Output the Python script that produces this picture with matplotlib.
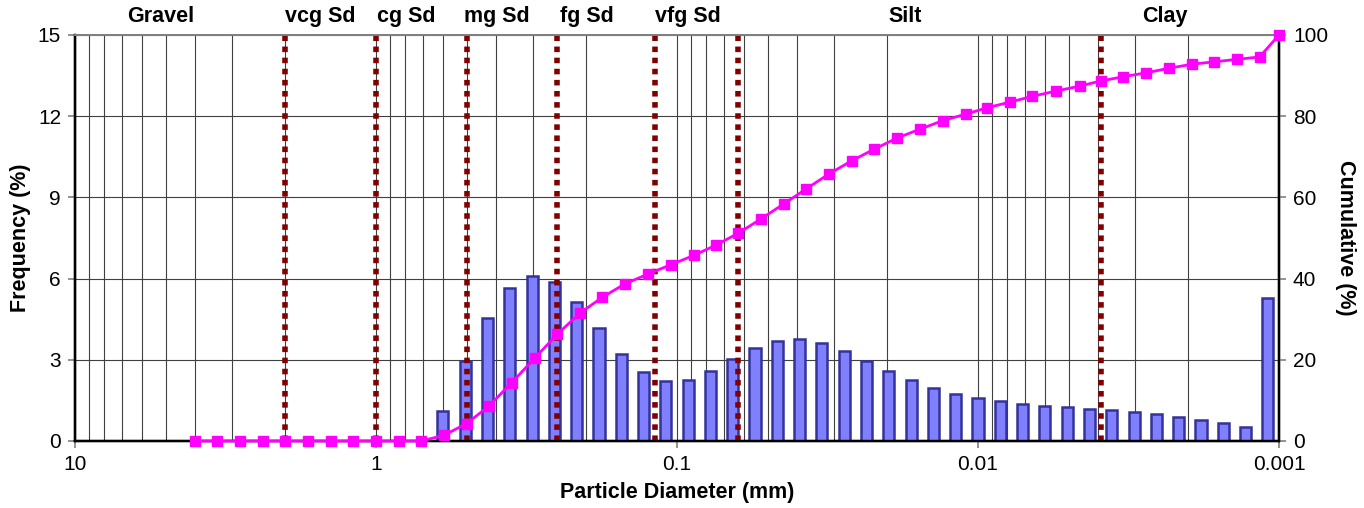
# Grain-size distribution: frequency bars + cumulative curve on a reversed log axis
import numpy as np
import matplotlib
matplotlib.use('Agg')
import matplotlib.pyplot as plt
from matplotlib.ticker import FixedLocator, FuncFormatter

plt.rcParams['font.family'] = ['Liberation Sans', 'DejaVu Sans']

# %% data
diam_mm = [4, 3.364, 2.828, 2.378, 2, 1.682, 1.414, 1.189, 1, 0.841, 0.707,
           0.595, 0.5, 0.42, 0.354, 0.297, 0.25, 0.21, 0.177, 0.149, 0.125,
           0.105, 0.088, 0.074, 0.0625, 0.0526, 0.0442, 0.0372, 0.03125,
           0.0263, 0.0221, 0.0186, 0.0156, 0.0131, 0.011, 0.0093, 0.0078,
           0.0066, 0.0055, 0.0046, 0.0039, 0.0033, 0.00276, 0.00232,
           0.00195, 0.00164, 0.00138, 0.00116, 0.001]
freq_pct = [0, 0, 0, 0, 0, 0, 0, 0, 0, 0, 0,
            1.12, 2.96, 4.53, 5.64, 6.08, 5.86, 5.15, 4.16, 3.22, 2.55,
            2.22, 2.27, 2.59, 3.03, 3.43, 3.70, 3.77, 3.63, 3.34, 2.97,
            2.60, 2.25, 1.95, 1.74, 1.58, 1.46, 1.36, 1.30, 1.24, 1.19,
            1.13, 1.06, 0.99, 0.90, 0.79, 0.65, 0.50, 5.27]
cum_pct = [0, 0, 0, 0, 0, 0, 0, 0, 0, 0, 0,
           1.4, 4.3, 8.7, 14.4, 20.4, 26.3, 31.5, 35.4, 38.7, 41.1,
           43.4, 45.7, 48.3, 51.2, 54.7, 58.4, 62.1, 65.8, 69.0, 71.9,
           74.6, 76.8, 78.9, 80.5, 82.1, 83.5, 84.9, 86.2, 87.4, 88.7,
           89.7, 90.7, 91.8, 92.8, 93.4, 94.0, 94.6, 100]
bounds_mm = [2, 1, 0.5, 0.25, 0.118, 0.0625, 0.0039]
class_names = ['Gravel', 'vcg Sd', 'cg Sd', 'mg Sd', 'fg Sd', 'vfg Sd', 'Silt', 'Clay']
class_xpos = [0.071, 0.204, 0.2755, 0.3505, 0.4252, 0.5091, 0.6894, 0.9049]  # axes fraction

GRID = '#404040'
TICK = '#808080'
LBL = 15.5

# %% figure
fig = plt.figure(figsize=(13.64, 5.08), dpi=100)
ax = fig.add_axes([75 / 1364, 1 - 441 / 508, 1204 / 1364, 406 / 508])
ax.set_xscale('log')
ax.set_xlim(10, 0.001)
ax.set_ylim(0, 15)
ax.set_yticks(np.arange(0, 16, 3))
ax.xaxis.set_major_locator(FixedLocator([10, 1, 0.1, 0.01, 0.001]))
ax.xaxis.set_major_formatter(FuncFormatter(lambda v, p: f'{v:g}'))
ax.grid(which='both', axis='x', color=GRID, lw=0.8)
ax.grid(which='major', axis='y', color=GRID, lw=0.8)
ax.set_axisbelow(True)
ax.tick_params(which='major', direction='out', length=5, color=TICK,
               width=1.2, labelsize=15, pad=5)
ax.tick_params(which='minor', length=0)
ax.set_xlabel('Particle Diameter (mm)', fontsize=LBL, weight='bold', labelpad=6)
ax.set_ylabel('Frequency (%)', fontsize=LBL, weight='bold', labelpad=5)

# bars sit on an evenly spaced category axis (like the spreadsheet chart)
axb = ax.twiny()
axb.set_xlim(-0.5, 53.5)
cat = np.arange(len(freq_pct)) + 5
axb.bar(cat, freq_pct, width=0.5, color='#8080ff', edgecolor='#333399',
        linewidth=1.8, zorder=2)
axb.xaxis.set_visible(False)

# cumulative curve and class boundaries on the log axis, right y scale
axc = ax.twinx()
axc.set_ylim(0, 100)
axc.set_yticks(np.arange(0, 101, 20))
axc.tick_params(axis='y', direction='out', length=5, color=TICK, width=1.2,
                labelsize=15, pad=5)
for b in bounds_mm:
    axc.axvline(b, color='#800000', lw=4.0, ls=(0, (1, 1)), zorder=2)
axc.plot(diam_mm, cum_pct, color='#ff00ff', lw=2, marker='s', ms=7,
         zorder=3, clip_on=False)
axc.set_ylabel('Cumulative (%)', fontsize=LBL, weight='bold', rotation=270,
               labelpad=20)

for a in (ax, axb, axc):
    for side in ('left', 'right', 'bottom'):
        a.spines[side].set_color('black')
        a.spines[side].set_linewidth(1.6)
    a.spines['top'].set_color('#808080')
    a.spines['top'].set_linewidth(1.4)

for name, xp in zip(class_names, class_xpos):
    ax.text(xp, 1.045, name, transform=ax.transAxes, ha='center', va='center',
            fontsize=LBL, weight='bold')

fig.savefig('out.png', dpi=100)
